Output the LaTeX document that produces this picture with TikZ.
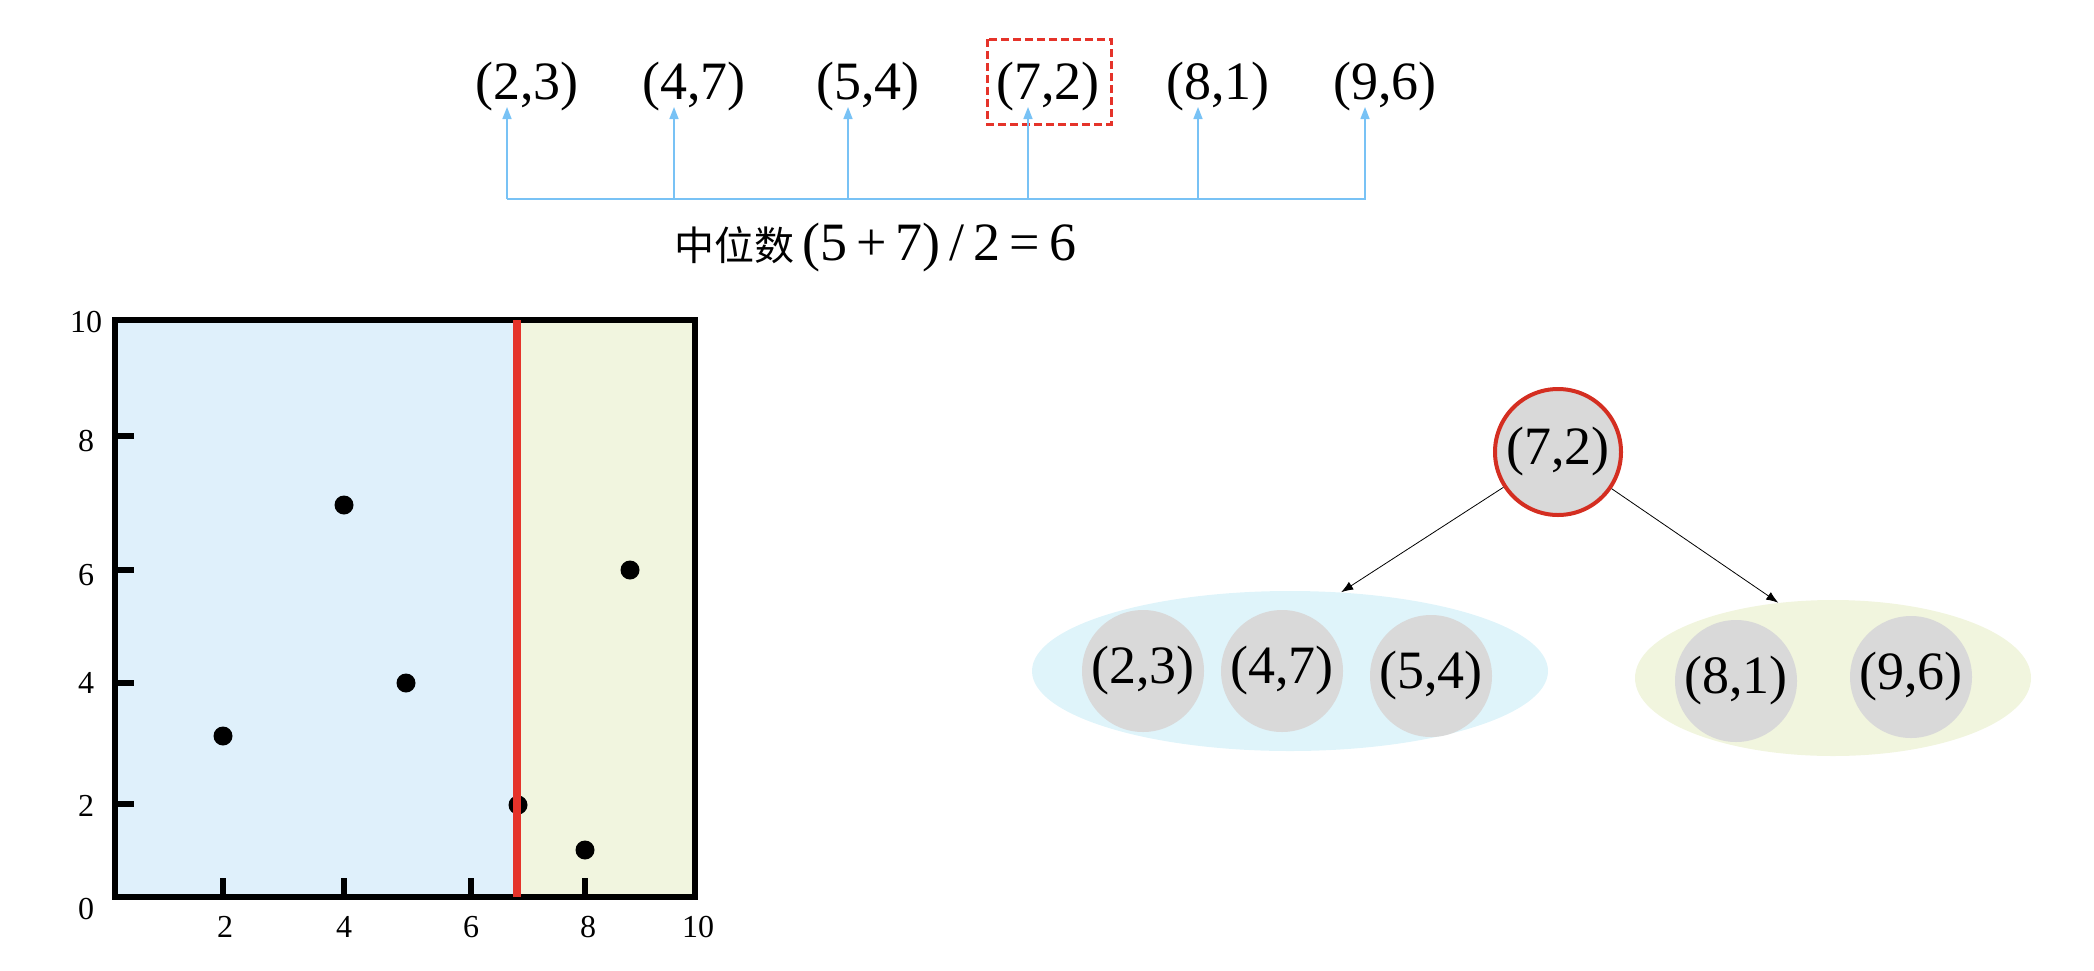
\documentclass[tikz,border=0pt]{standalone}
\usepackage{fontspec}
\setmainfont{Liberation Serif}
\newfontfamily\cjk{Noto Sans CJK SC}
\newfontfamily\numfont{Liberation Serif}
\usetikzlibrary{shapes.geometric,arrows.meta}
\definecolor{leftblue}{HTML}{DFF0FB}
\definecolor{rightgreen}{HTML}{F1F5DF}
\definecolor{setcyan}{HTML}{DFF4FA}
\definecolor{setgreen}{HTML}{F1F5DE}
\definecolor{nodegray}{HTML}{D9D9D9}
\definecolor{splitred}{HTML}{E5332A}
\definecolor{rootred}{HTML}{D42E21}
\definecolor{linkblue}{HTML}{78C2F5}
\tikzset{
    pointlabel/.style={inner sep=0pt, font=\fontsize{27}{30}\selectfont},
    linkarrow/.style={draw=linkblue, line width=0.75pt, -{Triangle[length=6pt,width=4.5pt]}},
    medianbox/.style={draw=splitred, dashed, dash pattern=on 4pt off 2pt, line width=1.5pt},
    ticklabel/.style={inner sep=0pt, font=\fontsize{16}{18}\selectfont},
    axisline/.style={line width=2.75pt},
    splitline/.style={draw=splitred, line width=4pt},
    plotdot/.style={circle, fill=black, inner sep=0pt, minimum size=9.5pt},
    kdnode/.style={circle, fill=nodegray, inner sep=0pt, minimum size=61pt, font=\fontsize{27}{30}\selectfont},
    kdset/.style={ellipse, inner sep=0pt},
    treearrow/.style={line width=0.4pt, -{Latex[length=6pt,width=4.5pt]}},
}
\begin{document}
\begin{tikzpicture}[x=0.5pt,y=-0.5pt]
        \useasboundingbox (0,0) rectangle (2094,970);
        % points sorted by x
        \node[pointlabel] (PT_23) at (527,87) {(2,3)};
        \node[pointlabel] (PT_47) at (694,87) {(4,7)};
        \node[pointlabel] (PT_54) at (868,87) {(5,4)};
        \node[pointlabel] (PT_72) at (1048,87) {(7,2)};
        \node[pointlabel] (PT_81) at (1218,87) {(8,1)};
        \node[pointlabel] (PT_96) at (1385,87) {(9,6)};
        \draw[medianbox] ([shift={(-61,-48)}]PT_72.center) rectangle ([shift={(63,37)}]PT_72.center);
        \coordinate (BAR_L) at (507,199);
        \coordinate (BAR_R) at (1366,199);
        \draw[linkblue, line width=0.75pt] (BAR_L) -- (BAR_R);
        \foreach \p in {PT_23,PT_47,PT_54,PT_72,PT_81,PT_96}{
            \coordinate (TIP) at ([xshift=-10pt,yshift=-10pt]\p.center);
            \draw[linkarrow] (TIP |- BAR_L) -- (TIP);
        }
        \node[anchor=west, inner sep=0pt] (MEDIAN) at (674,248) {%
            {\cjk\fontsize{20}{24}\selectfont 中位数}\hspace{4pt}{\numfont\fontsize{27}{30}\selectfont (5\,+\,7)\,/\,2\,=\,6}};
        % plot of the split
        \coordinate (PLOT_SW) at (115,897);
        \coordinate (PLOT_NE) at (695,320);
        \coordinate (SPLIT_S) at (517,897);
        \coordinate (SPLIT_N) at (517,320);
        \fill[leftblue] (PLOT_SW) rectangle (SPLIT_N);
        \fill[rightgreen] (SPLIT_S) rectangle (PLOT_NE);
        \foreach \y in {436,570,683,804}
            \draw[axisline] (115,\y) -- (134,\y);
        \foreach \x in {223,344,471,585}
            \draw[axisline] (\x,897) -- (\x,878);
        \draw[axisline] (PLOT_SW) rectangle (PLOT_NE);
        \foreach \y/\lab in {322/10,441/8,575/6,683/4,806/2,909/0}
            \node[ticklabel] (YL_\lab) at (86,\y) {\lab};
        \foreach \x/\lab in {225/2,344/4,471/6,588/8,698/10}
            \node[ticklabel] (XL_\lab) at (\x,927) {\lab};
        \node[plotdot] (DOT_23) at (223,736) {};
        \node[plotdot] (DOT_47) at (344,505) {};
        \node[plotdot] (DOT_54) at (406,683) {};
        \node[plotdot] (DOT_72) at (518,805) {};
        \node[plotdot] (DOT_81) at (585,850) {};
        \node[plotdot] (DOT_96) at (630,570) {};
        \draw[splitline] (SPLIT_S) -- (SPLIT_N);
        % kd tree
        \node[kdset, fill=setcyan, minimum width=258pt, minimum height=80pt] (LEFT_SET) at (1290,671) {};
        \node[kdset, fill=setgreen, minimum width=198pt, minimum height=78pt] (RIGHT_SET) at (1833,678) {};
        \node[kdnode] (KD_23) at (1143,671) {(2,3)};
        \node[kdnode] (KD_47) at (1282,671) {(4,7)};
        \node[kdnode] (KD_54) at (1431,676) {(5,4)};
        \node[kdnode] (KD_81) at (1736,681) {(8,1)};
        \node[kdnode] (KD_96) at (1911,677) {(9,6)};
        \node[kdnode, draw=rootred, line width=2pt, minimum size=63pt] (KD_ROOT) at (1558,452) {(7,2)};
        \draw[treearrow] (KD_ROOT) -- (LEFT_SET.57);
        \draw[treearrow] (KD_ROOT) -- (RIGHT_SET.126);
\end{tikzpicture}
\end{document}
